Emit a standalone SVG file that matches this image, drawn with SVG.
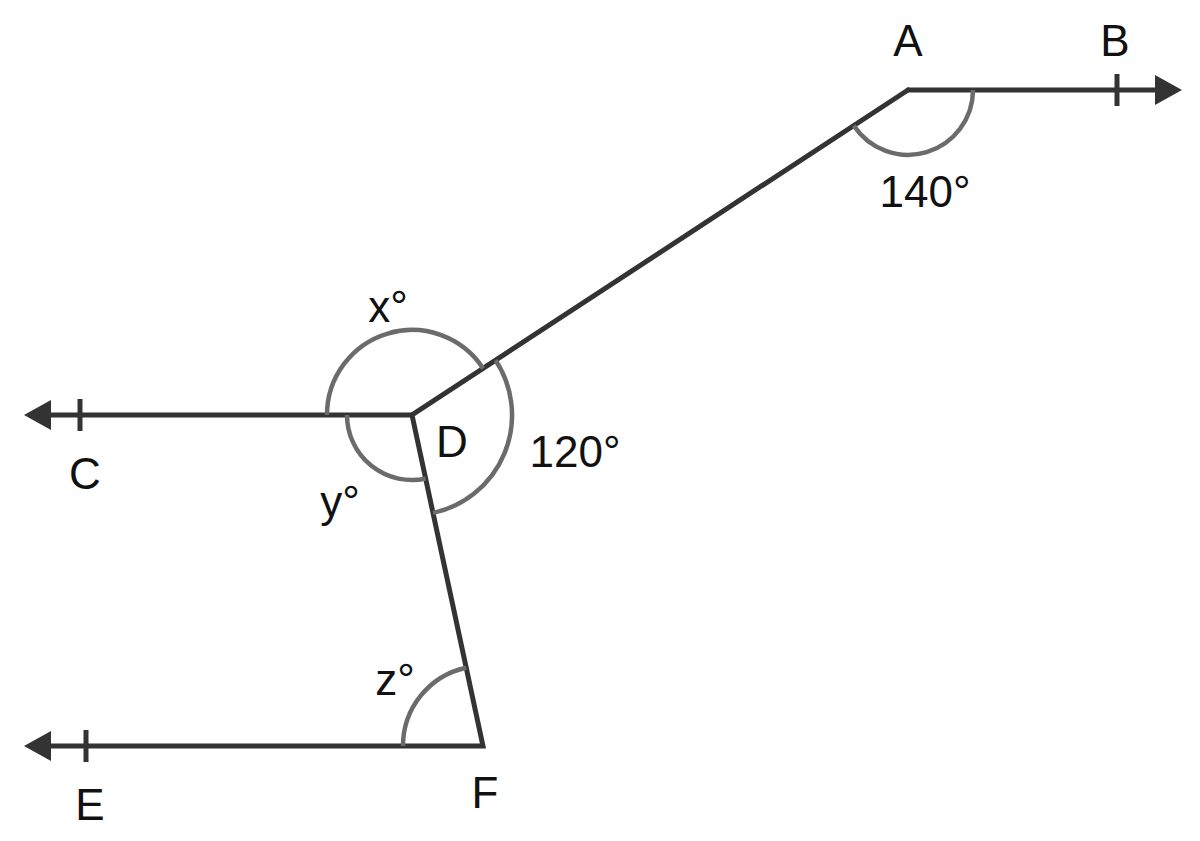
<svg xmlns="http://www.w3.org/2000/svg" width="1200" height="841" viewBox="0 0 1200 841">
<style>
.l{stroke:#333;stroke-width:5;fill:none;stroke-linecap:round}
.a{stroke:#6b6b6b;stroke-width:4.5;fill:none}
.t{stroke:#333;stroke-width:5}
text{font-family:"Liberation Sans",Arial,sans-serif;font-size:44px;fill:#111;text-anchor:middle}
</style>
<rect width="1200" height="841" fill="#fff"/>
<g id="lines">
<path class="l" d="M908,90 L1160,90"/>
<path class="l" d="M908,90 L412,415 L483,746 L45,746"/>
<path class="l" d="M412,415 L45,415"/>
<polygon points="1182,90 1155,75 1155,105" fill="#333"/>
<polygon points="24,415 51,400 51,430" fill="#333"/>
<polygon points="24,746 51,731 51,761" fill="#333"/>
<line class="t" x1="1117" y1="74" x2="1117" y2="106"/>
<line class="t" x1="80" y1="399" x2="80" y2="431"/>
<line class="t" x1="86" y1="730" x2="86" y2="762"/>
</g>
<g id="arcs">
<path class="a" d="M973,90 A65,65 0 0 1 853.7,125.6"/>
<path class="a" d="M327,415 A85,85 0 0 1 483.1,368.4"/>
<path class="a" d="M495.6,360.2 A100,100 0 0 1 433,512.9"/>
<path class="a" d="M347,415 A65,65 0 0 0 425.7,478.6"/>
<path class="a" d="M403,746 A80,80 0 0 1 466.2,667.7"/>
</g>
<g id="labels">
<text x="908" y="56">A</text>
<text x="1115" y="56">B</text>
<text x="925" y="207">140°</text>
<text x="388" y="322">x°</text>
<text x="452" y="457">D</text>
<text x="575" y="467">120°</text>
<text x="85" y="489">C</text>
<text x="340" y="517">y°</text>
<text x="395" y="695">z°</text>
<text x="90" y="820">E</text>
<text x="485" y="808">F</text>
</g>
</svg>
